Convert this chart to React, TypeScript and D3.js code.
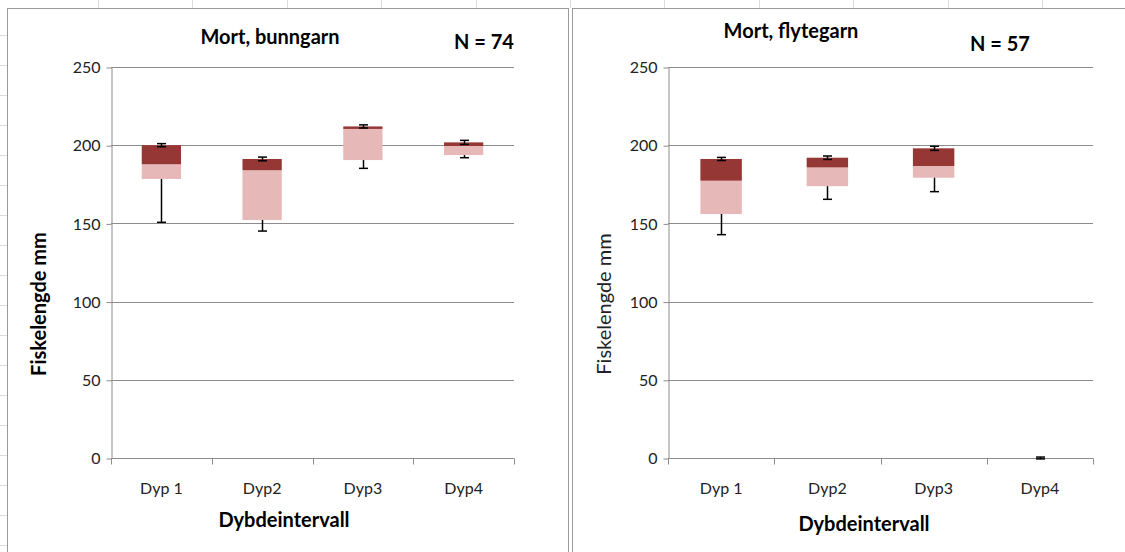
import React, { useEffect, useRef } from 'react';
import * as d3 from 'd3';

// Box plots built as stacked bars (Excel style): q1 base, light = q1..median, dark = median..q3
const categories = ['Dyp 1', 'Dyp2', 'Dyp3', 'Dyp4'];
const yTicks = [0, 50, 100, 150, 200, 250];

// Mort, bunngarn
const bunnMin = [150.7, 145.1, 185.2, 192];
const bunnQ1 = [178.4, 152.2, 190.5, 193.7];
const bunnMedian = [187.8, 184, 210.4, 199.5];
const bunnQ3 = [200, 191.2, 212, 201.8];
const bunnTopErr = [1, 1.2, 1, 1.3];

// Mort, flytegarn
const flyMin = [142.8, 165.4, 170.3, 0];
const flyQ1 = [156, 173.8, 179.2, 0];
const flyMedian = [177.3, 185.8, 186.7, 0];
const flyQ3 = [191.2, 192, 198, 0];
const flyTopErr = [1, 1.1, 1.3, 0.6];

const W = 1125;
const H = 552;
const FONT = 'Lato, "Open Sans", sans-serif';
const LIGHT = '#e6b9b8';
const DARK = '#953735';
const GRID = '#8c8c8c';

interface Panel {
  left: number;
  right: number;
  title: string;
  n: string;
  titleX: number;
  titleY: number;
  nX: number;
  nY: number;
  yTitleX: number;
  yTitleBold: boolean;
  xTitleX: number;
  xTitleY: number;
  min: number[];
  q1: number[];
  median: number[];
  q3: number[];
  topErr: number[];
}

const panels: Panel[] = [
  {
    left: 111, right: 514, title: 'Mort, bunngarn', n: 'N = 74',
    titleX: 270, titleY: 44, nX: 484, nY: 49, yTitleX: 46, yTitleBold: true,
    xTitleX: 284, xTitleY: 527,
    min: bunnMin, q1: bunnQ1, median: bunnMedian, q3: bunnQ3, topErr: bunnTopErr
  },
  {
    left: 668, right: 1093, title: 'Mort, flytegarn', n: 'N = 57',
    titleX: 791, titleY: 38, nX: 1000, nY: 51, yTitleX: 611, yTitleBold: false,
    xTitleX: 864, xTitleY: 531,
    min: flyMin, q1: flyQ1, median: flyMedian, q3: flyQ3, topErr: flyTopErr
  }
];

const App: React.FC = () => {
  const svgRef = useRef<SVGSVGElement>(null);

  useEffect(() => {
    if (!svgRef.current) return;
    const svg = d3.select(svgRef.current);
    svg.selectAll('*').remove();

    svg.append('rect').attr('width', W).attr('height', H).attr('fill', '#fff');

    // faint spreadsheet cell lines peeking out around the charts
    const bg = svg.append('g').attr('stroke', '#dcdcdc').attr('stroke-width', 1);
    d3.range(35, H, 30).forEach(y => {
      bg.append('line').attr('x1', 0).attr('x2', 7).attr('y1', y + 0.5).attr('y2', y + 0.5);
    });
    d3.range(98, W, 94.4).forEach(x => {
      bg.append('line').attr('x1', Math.round(x) + 0.5).attr('x2', Math.round(x) + 0.5).attr('y1', 0).attr('y2', 8);
    });

    // chart frames
    svg.append('rect').attr('x', 7.5).attr('y', 8.5).attr('width', 561).attr('height', 600)
      .attr('fill', '#fff').attr('stroke', '#9a9a9a');
    svg.append('rect').attr('x', 572.5).attr('y', 8.5).attr('width', 600).attr('height', 600)
      .attr('fill', '#fff').attr('stroke', '#9a9a9a');

    const y = d3.scaleLinear().domain([0, 250]).range([458, 67]);

    panels.forEach(p => {
      const g = svg.append('g');
      const x = d3.scaleBand<string>().domain(categories).range([p.left, p.right]).padding(0);
      const bw = x.bandwidth() * 0.39;
      const cx = (c: string) => (x(c) || 0) + x.bandwidth() / 2;

      // gridlines
      g.selectAll('.grid').data(yTicks.filter(t => t > 0)).enter().append('line')
        .attr('x1', p.left).attr('x2', p.right)
        .attr('y1', d => Math.round(y(d)) + 0.5).attr('y2', d => Math.round(y(d)) + 0.5)
        .attr('stroke', GRID).attr('stroke-width', 1);

      // y axis
      const yAxis = g.append('g').attr('transform', `translate(${p.left + 0.5},0.5)`)
        .call(d3.axisLeft(y).tickValues(yTicks).tickSize(5).tickPadding(6).tickSizeOuter(0));
      yAxis.select('.domain').attr('stroke', GRID);
      yAxis.selectAll('.tick line').attr('stroke', GRID);
      yAxis.selectAll('.tick text').attr('font-family', FONT).attr('font-size', 16).attr('fill', '#222');

      // x axis with ticks between categories
      const xAxis = g.append('g').attr('transform', `translate(0,${Math.round(y(0)) + 0.5})`);
      xAxis.append('line').attr('x1', p.left).attr('x2', p.right).attr('stroke', GRID);
      xAxis.selectAll('.xt').data([...categories.map(c => x(c) || 0), p.right]).enter().append('line')
        .attr('x1', d => Math.round(d) + 0.5).attr('x2', d => Math.round(d) + 0.5)
        .attr('y1', 0).attr('y2', 6).attr('stroke', GRID);
      xAxis.selectAll('.xl').data(categories).enter().append('text')
        .attr('x', d => cx(d)).attr('y', 35).attr('text-anchor', 'middle')
        .attr('font-family', FONT).attr('font-size', 16).attr('fill', '#222').text(d => d);

      const rows = categories.map((c, i) => ({
        c, min: p.min[i], q1: p.q1[i], med: p.median[i], q3: p.q3[i], err: p.topErr[i]
      }));

      // light segment
      g.selectAll('.lo').data(rows).enter().append('rect')
        .attr('x', d => cx(d.c) - bw / 2).attr('width', bw)
        .attr('y', d => y(d.med)).attr('height', d => y(d.q1) - y(d.med))
        .attr('fill', LIGHT);
      // dark segment
      g.selectAll('.hi').data(rows).enter().append('rect')
        .attr('x', d => cx(d.c) - bw / 2).attr('width', bw)
        .attr('y', d => y(d.q3)).attr('height', d => y(d.med) - y(d.q3))
        .attr('fill', DARK);

      const cap = 4.5;
      // lower whisker
      rows.filter(d => d.q1 - d.min > 0).forEach(d => {
        const xc = Math.round(cx(d.c)) + 0.5;
        g.append('line').attr('x1', xc).attr('x2', xc).attr('y1', y(d.q1)).attr('y2', y(d.min))
          .attr('stroke', '#000').attr('stroke-width', 1.5);
        g.append('line').attr('x1', xc - cap).attr('x2', xc + cap).attr('y1', y(d.min)).attr('y2', y(d.min))
          .attr('stroke', '#000').attr('stroke-width', 1.5);
      });
      // top error bar
      rows.forEach(d => {
        const xc = Math.round(cx(d.c)) + 0.5;
        const a = y(d.q3 + d.err);
        const b = y(d.q3 - d.err);
        g.append('line').attr('x1', xc).attr('x2', xc).attr('y1', a).attr('y2', b)
          .attr('stroke', '#000').attr('stroke-width', 1.5);
        [a, b].forEach(v => g.append('line').attr('x1', xc - cap).attr('x2', xc + cap).attr('y1', v).attr('y2', v)
          .attr('stroke', '#000').attr('stroke-width', 1.5));
      });

      // titles
      g.append('text').attr('x', p.titleX).attr('y', p.titleY).attr('text-anchor', 'middle')
        .attr('font-family', FONT).attr('font-weight', 'bold').attr('font-size', 20).text(p.title);
      g.append('text').attr('x', p.nX).attr('y', p.nY).attr('text-anchor', 'middle')
        .attr('font-family', FONT).attr('font-weight', 'bold').attr('font-size', 20).text(p.n);
      g.append('text').attr('x', p.xTitleX).attr('y', p.xTitleY).attr('text-anchor', 'middle')
        .attr('font-family', FONT).attr('font-weight', 'bold').attr('font-size', 20).text('Dybdeintervall');
      g.append('text').attr('transform', `translate(${p.yTitleX},304) rotate(-90)`).attr('text-anchor', 'middle')
        .attr('font-family', FONT).attr('font-weight', p.yTitleBold ? 'bold' : 'normal').attr('font-size', 20)
        .attr('fill', p.yTitleBold ? '#000' : '#222').text('Fiskelengde mm');
    });
  }, []);

  return (
    <svg ref={svgRef} width={W} height={H} style={{ position: 'absolute', left: 0, top: 0 }} />
  );
};

export default App;
